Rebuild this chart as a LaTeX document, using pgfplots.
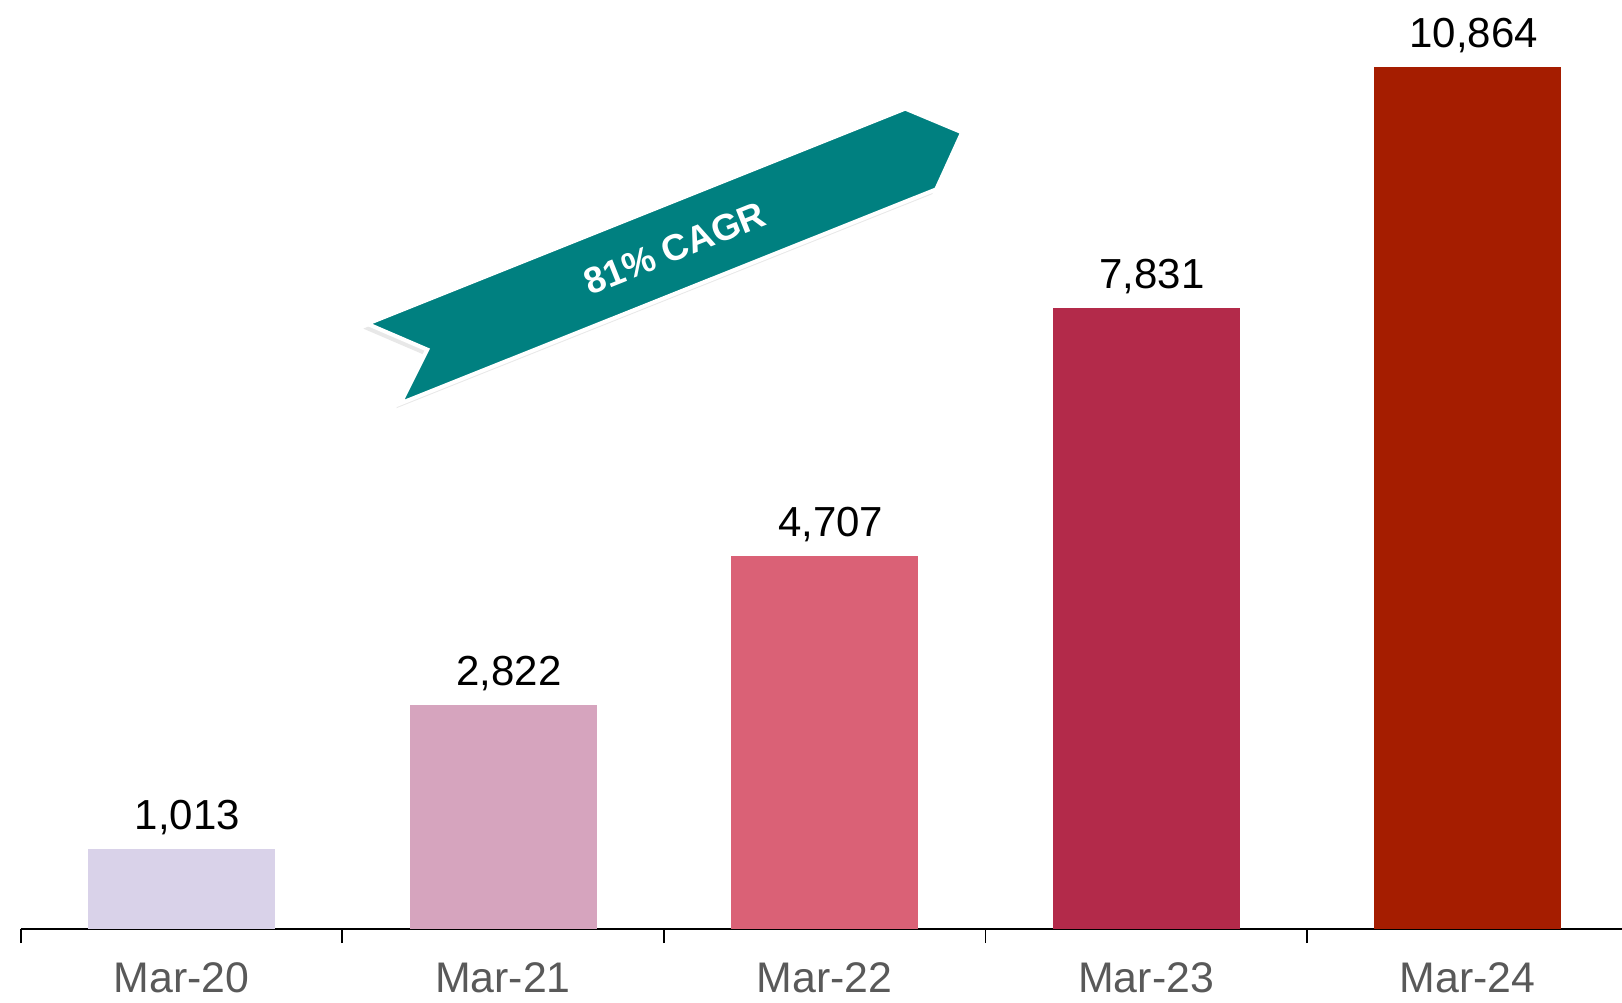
\documentclass[border=0pt]{standalone}
\usepackage{pgfplots}
\pgfplotsset{compat=1.18}
\usepackage{fontspec}
\setmainfont{Liberation Sans}
\usetikzlibrary{shadows}
\definecolor{c1}{RGB}{217,210,233}
\definecolor{c2}{RGB}{214,164,190}
\definecolor{c3}{RGB}{218,97,118}
\definecolor{c4}{RGB}{179,42,74}
\definecolor{c5}{RGB}{165,29,0}
\definecolor{tealc}{RGB}{0,128,128}
\definecolor{tgray}{RGB}{89,89,89}
\begin{document}
\begin{tikzpicture}
\begin{axis}[
  scale only axis, width=400.3pt, height=232.25pt,
  xmin=-0.5, xmax=4.48, ymin=0, ymax=11708,
  axis x line*=bottom, axis y line=none,
  axis line style={black, line width=0.4pt, -},
  ybar, bar width=46.75pt, bar shift=0pt,
  xtick={0,1,2,3,4}, xticklabels={Mar-20,Mar-21,Mar-22,Mar-23,Mar-24},
  major tick length=0pt,
  minor xtick={-0.5,0.5,1.5,2.5,3.5}, minor tick length=3.5pt, tick align=outside,
  minor tick style={black, line width=0.4pt},
  x tick label style={font=\fontsize{10.7}{13}\selectfont, text=tgray, yshift=-4.9pt},
  nodes near coords={\pgfmathprintnumber[fixed, precision=0, 1000 sep={,}, assume math mode=true]{\pgfplotspointmeta}},
  nodes near coords style={font=\fontsize{10.5}{13}\selectfont, text=black, xshift=1.5pt},
  clip=false,
]
\addplot[fill=c1, draw=none] coordinates {(0,1013)};
\addplot[fill=c2, draw=none] coordinates {(1,2822)};
\addplot[fill=c3, draw=none] coordinates {(2,4707)};
\addplot[fill=c4, draw=none] coordinates {(3,7831)};
\addplot[fill=c5, draw=none] coordinates {(4,10864)};
\draw[white, line width=1pt, line join=miter, fill=tealc,
      drop shadow={shadow xshift=-1pt, shadow yshift=-1.2pt, opacity=0.18}]
  (axis cs:0.5778,7627) -- (axis cs:0.7644,7302) -- (axis cs:0.6807,6624)
  -- (axis cs:2.3473,9322) -- (axis cs:2.4278,10039) -- (axis cs:2.2509,10339) -- cycle;
\node[text=white, font=\bfseries\fontsize{9.2}{11}\selectfont, rotate=21.8] at (axis cs:1.5336,8580) {81\% CAGR};
\coordinate (bl) at (rel axis cs:0,0);
\coordinate (tr) at (rel axis cs:1,1);
\end{axis}
\pgfresetboundingbox
\path[use as bounding box] (bl) ++(-5.175pt,-18.25pt) rectangle (tr);
\end{tikzpicture}
\end{document}
